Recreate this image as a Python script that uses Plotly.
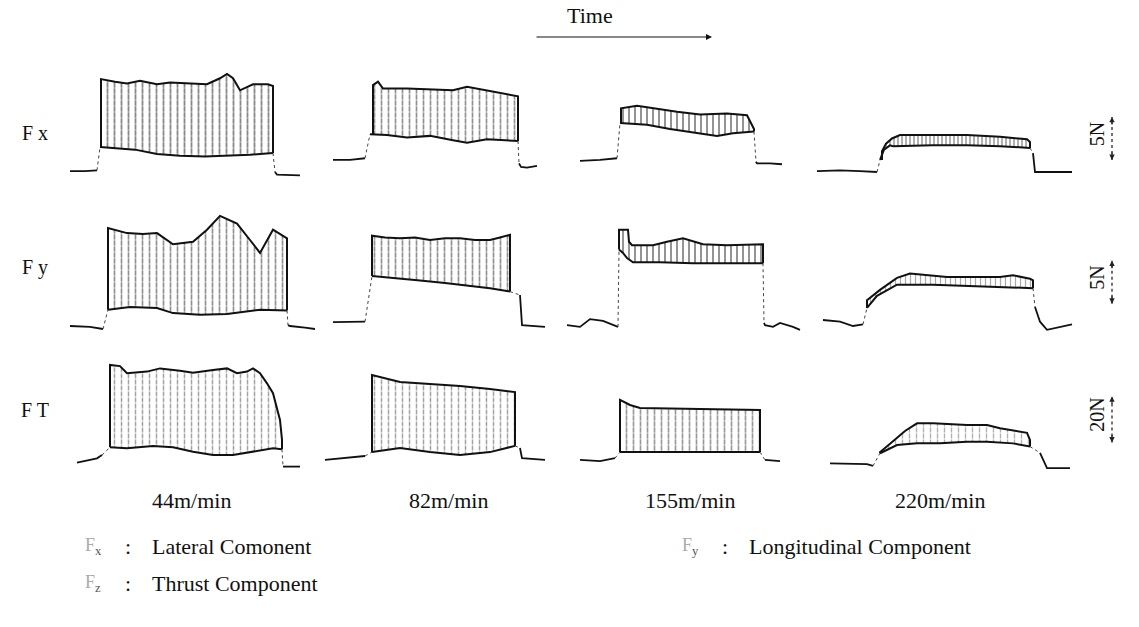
import plotly.graph_objects as go

W, H = 1139, 627

speeds = ["44m/min", "82m/min", "155m/min", "220m/min"]
components = ["F x", "F y", "F T"]
scale_text = ["5N", "5N", "20N"]
scale_N = [5, 5, 20]

# ---- Fx (lateral) records: (time, force N) ----
fx44_lead = [(15, 0.1), (30, 0.1), (42, 0.2)]
fx44_lower = [(45, 2.9), (60, 2.8), (80, 2.6), (102, 2.1), (125, 1.9), (150, 1.8), (172, 1.9), (195, 2.0), (218, 2.2)]
fx44_upper = [(46, 10.8), (60, 10.5), (72, 10.3), (85, 10.6), (102, 10.2), (115, 10.4), (135, 10.3), (152, 10.2),
              (165, 10.9), (172, 11.4), (178, 10.9), (185, 9.5), (198, 10.2), (213, 10.2), (218, 10.0)]
fx44_tail = [(220, 0.0), (222, -0.3), (245, -0.4)]

fx82_lead = [(18, 1.4), (35, 1.4), (50, 1.6)]
fx82_lower = [(55, 4.4), (72, 4.3), (92, 4.0), (115, 4.2), (138, 3.7), (152, 3.4), (172, 3.8), (198, 3.7), (203, 3.6)]
fx82_upper = [(58, 10.1), (63, 10.5), (68, 9.7), (92, 9.7), (115, 9.6), (138, 9.5), (152, 9.9), (172, 9.5), (195, 9.0), (203, 8.8)]
fx82_tail = [(204, 1.0), (206, 0.6), (212, 0.5), (222, 0.7)]

fx155_lead = [(20, 1.3), (40, 1.4), (57, 1.6)]
fx155_lower = [(60, 5.7), (87, 5.5), (110, 5.0), (133, 4.6), (157, 4.2), (173, 4.5), (194, 4.7)]
fx155_upper = [(61, 7.4), (77, 7.7), (93, 7.4), (117, 7.0), (140, 6.7), (167, 6.8), (187, 6.6), (194, 5.0)]
fx155_tail = [(196, 1.2), (197, 1.0), (210, 1.0), (222, 0.9)]

fx220_lead = [(9, 0.1), (32, 0.2), (52, 0.1), (69, 0.0)]
fx220_lower = [(72, 1.4), (76, 2.6), (82, 3.1), (85, 3.0), (125, 3.1), (159, 3.1), (192, 3.0), (222, 2.8)]
fx220_upper = [(74, 2.4), (78, 3.3), (84, 3.9), (92, 4.3), (125, 4.3), (159, 4.3), (192, 4.1), (219, 3.8), (222, 3.5)]
fx220_tail = [(225, 2.2), (227, 0.0), (242, 0.0), (264, 0.0)]

# ---- Fy (longitudinal) records ----
fy44_lead = [(15, 0.0), (35, -0.1), (48, -0.35)]
fy44_lower = [(53, 1.9), (75, 2.2), (102, 2.1), (118, 1.5), (145, 1.3), (172, 1.4), (205, 1.9), (232, 1.8)]
fy44_upper = [(53, 11.4), (72, 10.8), (88, 10.7), (102, 10.8), (118, 9.5), (138, 9.8), (152, 11.2), (165, 12.8),
              (182, 11.9), (195, 10.0), (205, 8.5), (218, 11.2), (232, 10.2)]
fy44_tail = [(233, 0.1), (235, 0.0), (250, -0.2), (260, -0.35)]

fy82_lead = [(18, 0.45), (35, 0.45), (50, 0.5)]
fy82_lower = [(57, 5.8), (80, 5.6), (105, 5.3), (130, 5.0), (155, 4.7), (175, 4.4), (195, 4.0)]
fy82_upper = [(57, 10.5), (70, 10.3), (85, 10.2), (100, 10.3), (115, 10.0), (130, 10.2), (145, 10.2),
              (160, 10.0), (175, 10.0), (185, 10.3), (195, 10.6)]
fy82_tail = [(205, 3.6), (207, 0.1), (230, -0.1)]

fy155_lead = [(7, 0.1), (20, -0.1), (30, 0.8), (43, 0.6), (58, -0.1)]
fy155_lower = [(59, 8.9), (63, 8.5), (67, 7.9), (73, 7.4), (100, 7.4), (133, 7.3), (167, 7.3), (203, 7.3)]
fy155_upper = [(59, 11.2), (68, 11.2), (69, 9.8), (72, 9.4), (93, 9.4), (107, 9.8), (123, 10.2), (143, 9.5),
               (167, 9.4), (203, 9.5)]
fy155_tail = [(204, 0.35), (205, 0.1), (213, -0.1), (220, 0.35), (233, -0.1), (240, -0.45)]

fy220_lead = [(15, 0.7), (32, 0.5), (45, 0.0), (55, 0.2)]
fy220_lower = [(59, 2.1), (69, 3.5), (89, 4.8), (92, 4.8), (125, 4.8), (175, 4.6), (225, 4.4)]
fy220_upper = [(59, 3.0), (72, 4.2), (89, 5.6), (102, 6.1), (119, 5.9), (139, 5.7), (172, 5.7), (192, 5.7),
               (205, 5.9), (222, 5.5), (225, 5.3)]
fy220_tail = [(227, 2.2), (232, 0.5), (239, -0.45), (259, 0.1), (264, 0.2)]

# ---- FT (thrust) records ----
ft44_lead = [(22, -0.3), (42, 1.6), (47, 3.0)]
ft44_lower = [(55, 6.4), (72, 6.0), (98, 7.0), (118, 6.4), (138, 4.5), (158, 3.0), (178, 3.0), (198, 4.5), (218, 6.0), (227, 5.5)]
ft44_upper = [(55, 42.2), (65, 41.7), (72, 38.6), (92, 39.3), (105, 40.7), (125, 39.7), (138, 38.8), (158, 40.0),
              (172, 40.7), (182, 38.6), (192, 39.3), (198, 40.7), (205, 38.6), (212, 34.2), (218, 29.9), (225, 18.3), (227, 9.6)]
ft44_tail = [(228, -2.0), (245, -2.0)]

ft82_lead = [(10, 0.9), (30, 1.7), (50, 2.6)]
ft82_lower = [(57, 4.3), (85, 6.1), (115, 4.3), (145, 3.0), (175, 4.3), (200, 7.0)]
ft82_upper = [(57, 37.8), (85, 34.8), (115, 33.9), (145, 33.0), (175, 31.7), (200, 30.4)]
ft82_tail = [(205, 6.1), (207, 1.7), (230, 0.9)]

ft155_lead = [(20, 0.9), (40, 0.4), (55, 1.7)]
ft155_lower = [(60, 4.3), (100, 4.3), (140, 4.3), (200, 4.3)]
ft155_upper = [(60, 27.0), (70, 24.8), (80, 23.5), (140, 23.0), (200, 22.6)]
ft155_tail = [(205, 0.9), (220, 0.4)]

ft220_lead = [(22, -0.6), (59, -0.9), (65, -1.7)]
ft220_lower = [(72, 3.8), (89, 7.4), (109, 8.1), (132, 8.1), (159, 8.8), (179, 8.8), (205, 8.1), (222, 6.7)]
ft220_upper = [(72, 4.3), (85, 9.0), (97, 13.5), (109, 16.8), (125, 16.8), (159, 16.1), (179, 16.1), (192, 14.7),
               (219, 12.7), (222, 9.6)]
ft220_tail = [(232, 4.0), (239, -2.7), (262, -2.7)]

legend_items = [("x", "Lateral Comonent"), ("y", "Longitudinal Component"), ("z", "Thrust Component")]

panels = [
    [(fx44_lead, fx44_lower, fx44_upper, fx44_tail), (fx82_lead, fx82_lower, fx82_upper, fx82_tail),
     (fx155_lead, fx155_lower, fx155_upper, fx155_tail), (fx220_lead, fx220_lower, fx220_upper, fx220_tail)],
    [(fy44_lead, fy44_lower, fy44_upper, fy44_tail), (fy82_lead, fy82_lower, fy82_upper, fy82_tail),
     (fy155_lead, fy155_lower, fy155_upper, fy155_tail), (fy220_lead, fy220_lower, fy220_upper, fy220_tail)],
    [(ft44_lead, ft44_lower, ft44_upper, ft44_tail), (ft82_lead, ft82_lower, ft82_upper, ft82_tail),
     (ft155_lead, ft155_lower, ft155_upper, ft155_tail), (ft220_lead, ft220_lower, ft220_upper, ft220_tail)],
]

# ---- layout geometry (pixels) and hatch styles ----
COL_PX = [(55, 315), (315, 560), (560, 808), (808, 1078)]
ROW_PX = [(55, 195, 172, 8.6), (195, 340, 326, 8.6), (340, 485, 462, 2.3)]  # top, bottom, zero, px per N
HATCH = [  # (spacing px, solidity, colour, white-gap solidity)
    [(7, 0.26, "#111", 0.15), (7, 0.24, "#222", 0.22), (6, 0.3, "#111", 0.0), (4, 0.35, "#222", 0.0)],
    [(7, 0.24, "#222", 0.2), (7, 0.24, "#222", 0.2), (6, 0.3, "#111", 0.0), (5, 0.25, "#555", 0.0)],
    [(7, 0.22, "#444", 0.4), (7, 0.22, "#444", 0.4), (7, 0.24, "#333", 0.2), (7, 0.2, "#666", 0.3)],
]
FONT = "Liberation Serif"
INK = "#111"

fig = go.Figure()


def xs(pts):
    return [p[0] for p in pts]


def ys(pts):
    return [p[1] for p in pts]


def line(pts, xa, ya, width, dash="solid", color=INK):
    fig.add_trace(go.Scatter(x=xs(pts), y=ys(pts), xaxis=xa, yaxis=ya, mode="lines",
                             line=dict(color=color, width=width, dash=dash),
                             hoverinfo="skip", showlegend=False))


for r in range(3):
    for c in range(4):
        lead, lower, upper, tail = panels[r][c]
        xa = "x" if c == 0 else f"x{c + 1}"
        ya = "y" if r == 0 else f"y{r + 1}"
        size, sol, col, gap = HATCH[r][c]
        poly = lower + upper[::-1]
        fig.add_trace(go.Scatter(
            x=xs(poly), y=ys(poly), xaxis=xa, yaxis=ya, mode="lines", line=dict(width=0),
            fill="toself", fillcolor="rgba(0,0,0,0)",
            fillpattern=dict(shape="|", size=size, solidity=sol, fgcolor=col, bgcolor="rgba(0,0,0,0)"),
            hoverinfo="skip", showlegend=False))
        if gap > 0:
            fig.add_trace(go.Scatter(
                x=xs(poly), y=ys(poly), xaxis=xa, yaxis=ya, mode="lines", line=dict(width=0),
                fill="toself", fillcolor="rgba(0,0,0,0)",
                fillpattern=dict(shape="-", size=6, solidity=gap, fgcolor="white", bgcolor="rgba(0,0,0,0)"),
                hoverinfo="skip", showlegend=False))
        up_line = [(upper[0][0], lower[0][1])] + upper + [(upper[-1][0], lower[-1][1])]
        line(up_line, xa, ya, 2)
        line(lead, xa, ya, 1.8)
        line([lead[-1], lower[0]], xa, ya, 1, "dot", "#444")
        line(lower, xa, ya, 2)
        line([lower[-1], tail[0]], xa, ya, 1, "dot", "#444")
        line(tail, xa, ya, 1.8)

layout = dict(width=W, height=H, margin=dict(l=0, r=0, t=0, b=0),
              paper_bgcolor="white", plot_bgcolor="white", showlegend=False)
for c, (x0, x1) in enumerate(COL_PX):
    key = "xaxis" if c == 0 else f"xaxis{c + 1}"
    layout[key] = dict(domain=[x0 / W, x1 / W], range=[0, x1 - x0], visible=False, fixedrange=True)
for r, (top, bot, zero, ppn) in enumerate(ROW_PX):
    key = "yaxis" if r == 0 else f"yaxis{r + 1}"
    layout[key] = dict(domain=[1 - bot / H, 1 - top / H], range=[-(bot - zero) / ppn, (zero - top) / ppn],
                       visible=False, fixedrange=True)
fig.update_layout(**layout)

ann = []
shapes = []


def text(t, x, y, size=20, color=INK, xanchor="center", **kw):
    ann.append(dict(text=t, x=x / W, y=1 - y / H, xref="paper", yref="paper", showarrow=False,
                    xanchor=xanchor, yanchor="middle", font=dict(family=FONT, size=size, color=color), **kw))


# Time arrow
text("Time", 590, 15, size=22)
ann.append(dict(text="", x=712 / W, y=1 - 37 / H, xref="paper", yref="paper", showarrow=True,
                ax=-177, ay=0, arrowhead=2, arrowsize=1, arrowwidth=1.2, arrowcolor=INK))
# row labels
ROW_LABEL_Y = [133, 268, 410]
for lab, yy in zip(components, ROW_LABEL_Y):
    text(lab, 35, yy, size=20)
# speed labels
SPEED_X = [191, 448, 690, 940]
for lab, xx in zip(speeds, SPEED_X):
    text(lab, xx, 500, size=22)
# scale bars
SCALE_BASE = [1.4, 2.6, 8.5]
for r in range(3):
    ya = "y" if r == 0 else f"y{r + 1}"
    b = SCALE_BASE[r]
    shapes.append(dict(type="line", xref="paper", yref=ya, x0=1112 / W, x1=1112 / W, y0=b, y1=b + scale_N[r],
                       line=dict(color="#444", width=1.5, dash="dot")))
    ann.append(dict(text="", xref="paper", yref=ya, x=1112 / W, y=b + scale_N[r], ax=0, ay=9,
                    showarrow=True, arrowhead=2, arrowsize=0.9, arrowwidth=1.2, arrowcolor="#222"))
    ann.append(dict(text="", xref="paper", yref=ya, x=1112 / W, y=b, ax=0, ay=-9,
                    showarrow=True, arrowhead=2, arrowsize=0.9, arrowwidth=1.2, arrowcolor="#222"))
    ann.append(dict(text=scale_text[r], xref="paper", yref=ya, x=1097 / W, y=b + scale_N[r] * 0.6,
                    xanchor="center", yanchor="middle",
                    showarrow=False, textangle=-90, font=dict(family=FONT, size=20, color=INK)))
# legend
LEG_POS = [(83, 546), (680, 546), (83, 583)]
for (sub, txt), (lx, ly) in zip(legend_items, LEG_POS):
    text(f"<span style='color:#aaa'>F</span><sub>{sub}</sub>", lx, ly, size=18, color="#555", xanchor="left")
    text(":", lx + 45, ly, size=22)
    text(txt, lx + 67, ly, size=22, xanchor="left")

fig.update_layout(annotations=ann, shapes=shapes)
fig.write_html("out.html")
